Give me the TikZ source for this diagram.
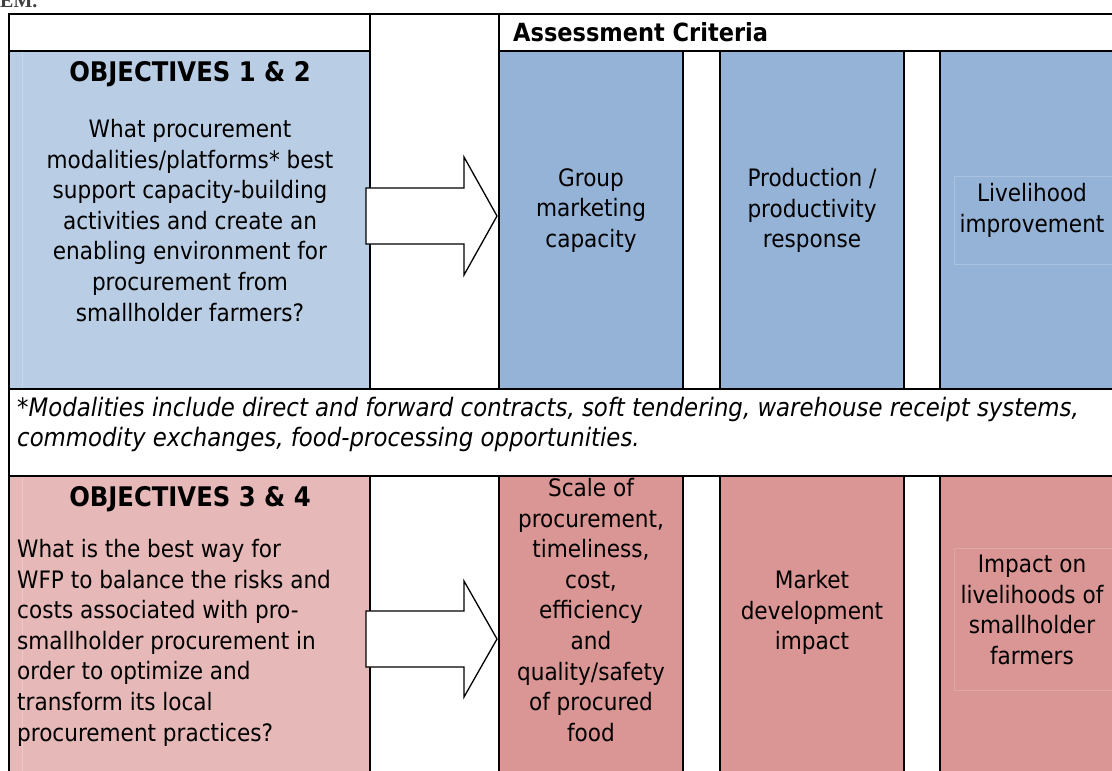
\documentclass[tikz,border=0pt]{standalone}
\usepackage{fontspec}
\setmainfont{DejaVu Sans Condensed}
\newfontfamily\emfont{Liberation Serif}
\definecolor{blueL}{HTML}{B9CDE5}
\definecolor{blueD}{HTML}{95B3D7}
\definecolor{redL}{HTML}{E6B9B8}
\definecolor{redD}{HTML}{D99694}
\definecolor{blueLine}{HTML}{C8D8EC}
\definecolor{blueDLine}{HTML}{A9C2E0}
\definecolor{redLine}{HTML}{EDC8C7}
\definecolor{redDLine}{HTML}{E0A7A5}
\tikzset{
  gridline/.style={line width=2pt, black, line cap=rect},
  faint/.style={line width=0.8pt},
  bigarrow/.style={draw=black, fill=white, line width=1.3pt, line join=miter},
  body/.style={font=\fontsize{24}{30.6}\selectfont, inner sep=0pt, anchor=north, align=center},
  bodyleft/.style={body, align=left, anchor=north west},
  headbold/.style={font=\fontsize{27}{32}\selectfont\bfseries, inner sep=0pt, anchor=base},
  foot/.style={font=\fontsize{25.4}{30.4}\selectfont\itshape, inner sep=0pt, anchor=north west, align=left},
}
\begin{document}
\begin{tikzpicture}[x=1pt,y=-1pt]
\useasboundingbox (0,0) rectangle (1112,771);
\clip (0,0) rectangle (1112,771);
% fills
\fill[blueL] (9,51) rectangle (370,389);
\fill[blueD] (499,51) rectangle (683,389);
\fill[blueD] (720,51) rectangle (904,389);
\fill[blueD] (940,51) rectangle (1120,389);
\fill[redL] (9,476) rectangle (370,780);
\fill[redD] (499,476) rectangle (683,780);
\fill[redD] (720,476) rectangle (904,780);
\fill[redD] (940,476) rectangle (1120,780);
% faint text-box edges
\draw[faint, blueLine] (22,52) -- (22,388);
\draw[faint, redLine] (22,477) -- (22,780);
\draw[faint, blueDLine] (1120,176) -- (954,176) -- (954,264) -- (1120,264);
\draw[faint, redDLine] (1120,548) -- (954,548) -- (954,690) -- (1120,690);
% grid
\draw[gridline] (9,14) -- (1120,14);
\draw[gridline] (9,14) -- (9,780);
\draw[gridline] (9,51) -- (370,51);
\draw[gridline] (499,51) -- (1120,51);
\draw[gridline] (370,14) -- (370,389);
\draw[gridline] (499,14) -- (499,389);
\foreach \x in {683,720,904,940} \draw[gridline] (\x,51) -- (\x,389);
\draw[gridline] (9,389) -- (1120,389);
\draw[gridline] (9,476) -- (1120,476);
\foreach \x in {370,499,683,720,904,940} \draw[gridline] (\x,476) -- (\x,780);
% arrows
\draw[bigarrow] (366,188) -- (464,188) -- (464,157) -- (497,216) -- (464,275) -- (464,244) -- (366,244) -- cycle;
\draw[bigarrow] (366,611) -- (464,611) -- (464,581) -- (497,639) -- (464,697) -- (464,667) -- (366,667) -- cycle;
% texts
\node[font=\fontsize{20}{24}\selectfont\emfont\bfseries, text=black!75, anchor=base west, inner sep=0pt] (em) at (0,7) {EM.};
\node[headbold, font=\fontsize{25}{30}\selectfont\bfseries, anchor=base west] (ac) at (513,41) {Assessment Criteria};
\node[headbold] (obj12) at (190,81) {OBJECTIVES 1 \& 2};
\node[body] (q12) at (190,119) {What procurement\\modalities/platforms* best\\support capacity-building\\activities and create an\\enabling environment for\\procurement from\\smallholder farmers?};
\node[body] (c1) at (591,168) {Group\\marketing\\capacity};
\node[body] (c2) at (812,168) {Production /\\productivity\\response};
\node[body] (c3) at (1032,183) {Livelihood\\improvement};
\node[foot] (fn) at (17,397) {*Modalities include direct and forward contracts, soft tendering, warehouse receipt systems,\\commodity exchanges, food-processing opportunities.};
\node[headbold] (obj34) at (190,506) {OBJECTIVES 3 \& 4};
\node[bodyleft] (q34) at (17,539) {What is the best way for\\WFP to balance the risks and\\costs associated with pro-\\smallholder procurement in\\order to optimize and\\transform its local\\procurement practices?};
\node[body] (r1) at (591,478) {Scale of\\procurement,\\timeliness,\\cost,\\efficiency\\and\\quality/safety\\of procured\\food};
\node[body] (r2) at (812,570) {Market\\development\\impact};
\node[body] (r3) at (1032,555) {Impact on\\livelihoods of\\smallholder\\farmers};
\end{tikzpicture}
\end{document}
